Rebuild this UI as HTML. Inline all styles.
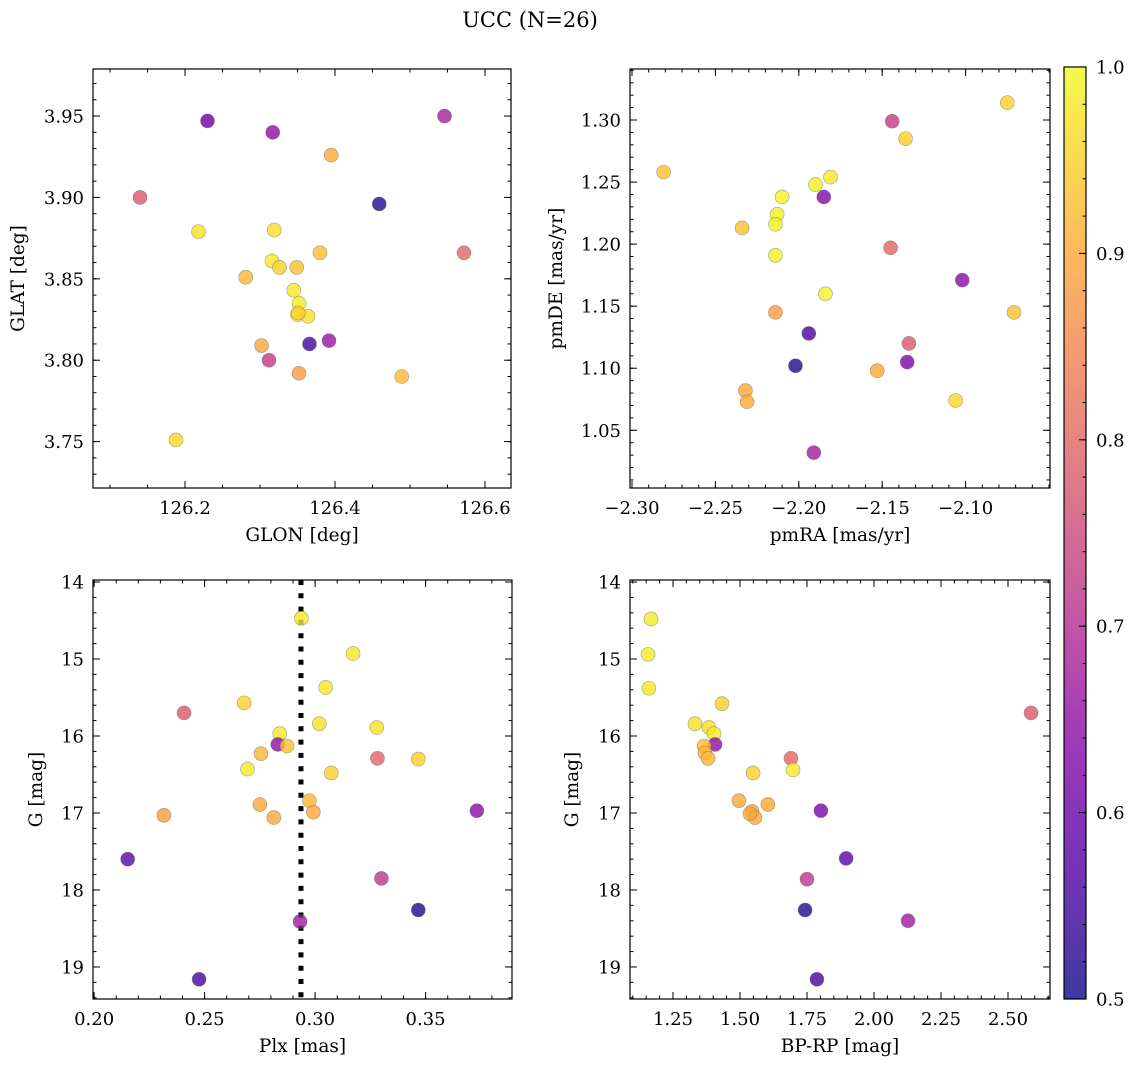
<!DOCTYPE html>
<html><head><meta charset="utf-8">
<style>
html,body{margin:0;padding:0;background:#fff;}
svg{display:block;font-family:"DejaVu Serif","Liberation Serif",serif;}
</style></head>
<body>
<svg id="fig" width="1136" height="1067" viewBox="0 0 1136 1067" xmlns="http://www.w3.org/2000/svg">
<defs>
<linearGradient id="plasmaGrad" x1="0" y1="1" x2="0" y2="0"></linearGradient>
</defs>
<text x="530" y="27" font-size="21" text-anchor="middle">UCC (N=26)</text>
</svg>
<script>
// ---- data ----
const glon = [126.230,126.317,126.546,126.395,126.140,126.459,126.218,126.319,126.380,126.572,126.316,126.326,126.349,126.281,126.345,126.352,126.350,126.364,126.366,126.392,126.302,126.312,126.352,126.489,126.188,126.351];
const glat = [3.947,3.940,3.950,3.926,3.900,3.896,3.879,3.880,3.866,3.866,3.861,3.857,3.857,3.851,3.843,3.835,3.828,3.827,3.810,3.812,3.809,3.800,3.792,3.790,3.751,3.829];
const prob1 = [0.60,0.65,0.68,0.90,0.78,0.52,0.97,0.97,0.93,0.80,0.98,0.95,0.93,0.92,0.98,0.98,0.98,0.97,0.55,0.66,0.90,0.73,0.88,0.92,0.96,0.95];

const pmra = [-2.281,-2.075,-2.144,-2.136,-2.181,-2.190,-2.210,-2.185,-2.213,-2.214,-2.234,-2.145,-2.214,-2.102,-2.184,-2.214,-2.071,-2.194,-2.134,-2.202,-2.135,-2.153,-2.232,-2.231,-2.106,-2.191];
const pmde = [1.258,1.314,1.299,1.285,1.254,1.248,1.238,1.238,1.224,1.216,1.213,1.197,1.191,1.171,1.160,1.145,1.145,1.128,1.120,1.102,1.105,1.098,1.082,1.073,1.074,1.032];
const prob2 = [0.93,0.95,0.73,0.95,0.98,0.99,0.99,0.63,0.99,0.99,0.93,0.80,0.99,0.64,0.99,0.88,0.93,0.56,0.78,0.52,0.62,0.90,0.90,0.90,0.96,0.67];

const plx = [0.2938,0.3172,0.3048,0.2679,0.2407,0.3019,0.3279,0.2840,0.2831,0.2873,0.2755,0.3282,0.3467,0.2694,0.3073,0.2974,0.2750,0.2992,0.3732,0.2316,0.2813,0.2152,0.3300,0.3467,0.2932,0.2475];
const gmag3 = [14.47,14.93,15.37,15.57,15.70,15.84,15.89,15.97,16.11,16.13,16.23,16.29,16.30,16.43,16.48,16.84,16.89,16.99,16.97,17.03,17.06,17.60,17.85,18.26,18.41,19.16];
const prob3 = [0.98,0.98,0.98,0.95,0.78,0.97,0.97,0.98,0.65,0.93,0.92,0.80,0.95,0.98,0.95,0.92,0.90,0.90,0.64,0.88,0.90,0.58,0.72,0.52,0.67,0.56];
const plxLine = [0.2936];

const bprp = [1.168,1.157,1.160,1.433,2.586,1.332,1.384,1.403,1.407,1.366,1.369,1.381,1.690,1.698,1.549,1.496,1.604,1.545,1.556,1.537,1.802,1.896,1.750,1.743,2.127,1.787];
const gmag4 = [14.48,14.94,15.38,15.58,15.70,15.84,15.89,15.97,16.11,16.13,16.22,16.29,16.29,16.44,16.48,16.84,16.89,16.98,17.06,17.01,16.97,17.59,17.86,18.26,18.40,19.16];
const prob4 = [0.98,0.98,0.98,0.95,0.78,0.97,0.97,0.98,0.65,0.92,0.92,0.92,0.80,0.98,0.95,0.90,0.90,0.90,0.90,0.90,0.62,0.58,0.72,0.52,0.67,0.56];

const cbTicks = [0.5,0.6,0.7,0.8,0.9,1.0];

// ---- helpers ----
const NS="http://www.w3.org/2000/svg";
const svg=document.getElementById('fig');
function mk(tag,attrs,parent){const e=document.createElementNS(NS,tag);for(const k in attrs)e.setAttribute(k,attrs[k]);(parent||svg).appendChild(e);return e;}
const stops=[[0,[13,8,135]],[0.1,[65,4,157]],[0.2,[106,0,168]],[0.3,[143,13,164]],[0.4,[177,42,144]],[0.5,[204,71,120]],[0.6,[225,100,98]],[0.7,[242,132,75]],[0.8,[252,166,54]],[0.9,[252,206,37]],[1,[240,249,33]]];
function plasma(t){t=Math.max(0,Math.min(1,t));for(let i=1;i<stops.length;i++){if(t<=stops[i][0]){const a=stops[i-1],b=stops[i];const f=(t-a[0])/(b[0]-a[0]);const c=a[1].map((v,j)=>Math.round(v+(b[1][j]-v)*f));return `rgb(${c[0]},${c[1]},${c[2]})`;}}return 'rgb(240,249,33)';}
const vmin=0.5,vmax=1.0;
function cnorm(v){return (v-vmin)/(vmax-vmin);}
function lin(d0,d1,r0,r1){return v=>r0+(v-d0)/(d1-d0)*(r1-r0);}
function fmt(v,dec){return v.toFixed(dec).replace('-','\u2212');}
function range(a,b,s){const o=[];const n=Math.round((b-a)/s);for(let i=0;i<=n;i++)o.push(a+i*s);return o;}

function panel(cfg){
  const g=mk('g',{});
  
  
  const {l,r,t,b}=cfg.box;
  const sx=lin(cfg.xd[0],cfg.xd[1],l,r);
  const sy=lin(cfg.yd[0],cfg.yd[1],b,t);
  if(cfg.vline){
    cfg.vline.forEach(v=>{
      const ln=mk('line',{x1:sx(v),x2:sx(v),y1:t,y2:b,stroke:'#000','stroke-width':5,'stroke-dasharray':'5 8.3'},g);
      
      
    });
  }
  for(let i=0;i<cfg.xs.length;i++){
    const c=mk('circle',{cx:sx(cfg.xs[i]),cy:sy(cfg.ys[i]),r:7,fill:plasma(cnorm(cfg.cs[i])),'fill-opacity':0.8,stroke:'#666','stroke-opacity':0.6,'stroke-width':0.6},g);
    
    
  }
  const tk=mk('g',{stroke:'#000','stroke-width':1},g);
  
  
  const eps=1e-9;
  const inX=v=>v>=Math.min(...cfg.xd)-eps&&v<=Math.max(...cfg.xd)+eps;
  const inY=v=>v>=Math.min(...cfg.yd)-eps&&v<=Math.max(...cfg.yd)+eps;
  range(cfg.xminor[0],cfg.xminor[1],cfg.xminor[2]).filter(inX).forEach(v=>{const x=sx(v);mk('line',{x1:x,x2:x,y1:b,y2:b-3.5},tk);mk('line',{x1:x,x2:x,y1:t,y2:t+3.5},tk);});
  range(cfg.yminor[0],cfg.yminor[1],cfg.yminor[2]).filter(inY).forEach(v=>{const y=sy(v);mk('line',{x1:l,x2:l+3.5,y1:y,y2:y},tk);mk('line',{x1:r,x2:r-3.5,y1:y,y2:y},tk);});
  cfg.xmajor.filter(inX).forEach(v=>{const x=sx(v);mk('line',{x1:x,x2:x,y1:b,y2:b-7},tk);mk('line',{x1:x,x2:x,y1:t,y2:t+7},tk);
    const tx=mk('text',{x:x,y:b+26,'font-size':18,'text-anchor':'middle'},g);tx.textContent=fmt(v,cfg.xdec);
    });
  cfg.ymajor.filter(inY).forEach(v=>{const y=sy(v);mk('line',{x1:l,x2:l+7,y1:y,y2:y},tk);mk('line',{x1:r,x2:r-7,y1:y,y2:y},tk);
    const tx=mk('text',{x:l-9,y:y+6.5,'font-size':18,'text-anchor':'end'},g);tx.textContent=fmt(v,cfg.ydec);
    });
  const fr=mk('rect',{x:l,y:t,width:r-l,height:b-t,fill:'none',stroke:'#000','stroke-width':1.2},g);
  
  const xl=mk('text',{x:(l+r)/2,y:b+53,'font-size':18.5,'text-anchor':'middle'},g);xl.textContent=cfg.xlabel;
  
  const yx=cfg.ylx,yy=(t+b)/2;
  const yl=mk('text',{x:yx,y:yy,'font-size':18.5,'text-anchor':'middle',transform:`rotate(-90 ${yx} ${yy})`},g);yl.textContent=cfg.ylabel;
  
}

panel({name:'glon-glat-panel',box:{l:93,r:511,t:69,b:488},xd:[126.0773,126.6347],yd:[3.7215,3.9789],
  xs:glon,ys:glat,cs:prob1,xmajor:[126.2,126.4,126.6],xminor:[126.05,126.65,0.05],ymajor:range(3.75,3.95,0.05),yminor:[3.72,3.98,0.01],
  xdec:1,ydec:2,xlabel:'GLON [deg]',ylabel:'GLAT [deg]',ylx:24});
panel({name:'pm-panel',box:{l:630,r:1050,t:69,b:488},xd:[-2.3012,-2.0494],yd:[1.0035,1.3411],
  xs:pmra,ys:pmde,cs:prob2,xmajor:range(-2.30,-2.10,0.05),xminor:[-2.30,-2.05,0.01],ymajor:range(1.05,1.30,0.05),yminor:[1.01,1.34,0.01],
  xdec:2,ydec:2,xlabel:'pmRA [mas/yr]',ylabel:'pmDE [mas/yr]',ylx:562});
panel({name:'plx-g-panel',box:{l:93,r:512,t:580,b:999},xd:[0.1995,0.3891],yd:[19.416,13.974],
  xs:plx,ys:gmag3,cs:prob3,vline:plxLine,xmajor:range(0.20,0.35,0.05),xminor:[0.20,0.38,0.01],ymajor:range(14,19,1),yminor:[14,19.4,0.2],
  xdec:2,ydec:0,xlabel:'Plx [mas]',ylabel:'G [mag]',ylx:42});
panel({name:'cmd-panel',box:{l:630,r:1050,t:580,b:999},xd:[1.0896,2.6567],yd:[19.416,13.974],
  xs:bprp,ys:gmag4,cs:prob4,xmajor:range(1.25,2.50,0.25),xminor:[1.10,2.65,0.05],ymajor:range(14,19,1),yminor:[14,19.4,0.2],
  xdec:2,ydec:0,xlabel:'BP-RP [mag]',ylabel:'G [mag]',ylx:578});

// ---- colorbar ----
const grad=document.getElementById('plasmaGrad');
for(let i=0;i<=20;i++){mk('stop',{offset:(i/20),'stop-color':plasma(i/20)},grad);}
const cb=mk('g',{});


const cbT=67,cbB=999,cbL=1064,cbR=1086;
const cy=lin(vmin,vmax,cbB,cbT);
mk('rect',{x:cbL,y:cbT,width:cbR-cbL,height:cbB-cbT,fill:'url(#plasmaGrad)','fill-opacity':0.8},cb);
range(0.5,1.0,0.02).forEach(v=>{const y=cy(v);mk('line',{x1:cbR,x2:cbR-3.5,y1:y,y2:y,stroke:'#000','stroke-width':1},cb);});
cbTicks.forEach(v=>{const y=cy(v);mk('line',{x1:cbR,x2:cbR-7,y1:y,y2:y,stroke:'#000','stroke-width':1},cb);
  const tx=mk('text',{x:cbR+10,y:y+6.5,'font-size':18},cb);tx.textContent=v.toFixed(1);
  });
mk('rect',{x:cbL,y:cbT,width:cbR-cbL,height:cbB-cbT,fill:'none',stroke:'#000','stroke-width':1.2},cb);
</script>
</body></html>
